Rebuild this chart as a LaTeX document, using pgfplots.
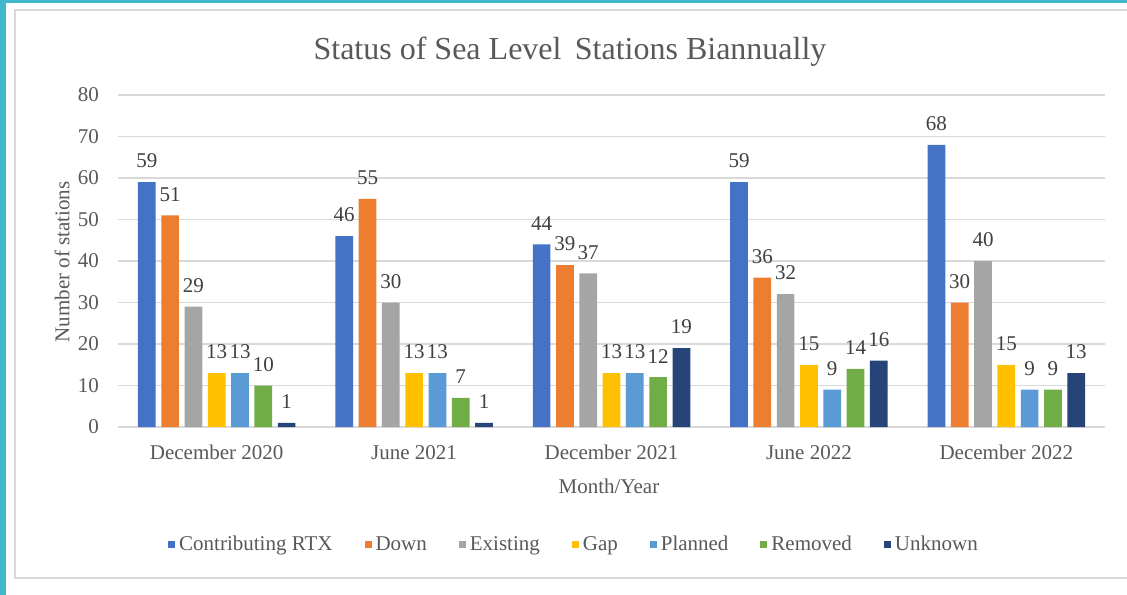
\documentclass[border=0pt]{standalone}
\usepackage{pgfplots}
\pgfplotsset{compat=1.18}
\usepackage{fontspec}
\setmainfont{Liberation Serif}
\definecolor{cA}{HTML}{4472C4}
\definecolor{cB}{HTML}{ED7D31}
\definecolor{cC}{HTML}{A5A5A5}
\definecolor{cD}{HTML}{FFC000}
\definecolor{cE}{HTML}{5B9BD5}
\definecolor{cF}{HTML}{70AD47}
\definecolor{cG}{HTML}{264478}
\definecolor{txt}{HTML}{595959}
\definecolor{lbl}{HTML}{404040}
\definecolor{grd}{HTML}{D9D9D9}
\definecolor{tealb}{HTML}{3FB9CB}
\begin{document}
\begin{tikzpicture}
\useasboundingbox (0,0) rectangle (563.5pt,297pt);
\clip (0,0) rectangle (563.5pt,297pt);
\fill[white] (-5pt,-5pt) rectangle (570pt,300pt);
\fill[tealb] (-5pt,-5pt) rectangle (3pt,300pt);
\fill[tealb] (-5pt,295.5pt) rectangle (570pt,300pt);
\draw[grd, line width=0.8pt] (600pt,8pt) -- (7.5pt,8pt) -- (7.5pt,292pt) -- (600pt,292pt);
\node[text=txt, font=\fontsize{16}{18}\selectfont] at (285pt,271pt) {Status of Sea Level\, Stations Biannually};
\node[text=txt, font=\fontsize{10.5}{12}\selectfont, rotate=90] at (31pt,166pt) {Number of stations};
\node[text=txt, font=\fontsize{10.5}{12}\selectfont] at (304.5pt,54pt) {Month/Year};
\begin{axis}[
  at={(59pt,83.5pt)}, anchor=south west,
  scale only axis, width=493.5pt, height=166pt,
  ybar=2.8pt, bar width=8.85pt,
  xmin=-0.5, xmax=4.5, ymin=0, ymax=80,
  ytick={0,10,...,80},
  xtick={0,1,2,3,4},
  xticklabels={December 2020,June 2021,December 2021,June 2022,December 2022},
  axis line style={draw=none},
  major tick length=0pt,
  ymajorgrids, grid style={grd, line width=0.7pt},
  tick label style={text=txt, font=\fontsize{10.5}{12}\selectfont},
  /pgf/number format/assume math mode=true,
  yticklabel style={xshift=-6pt},
  xticklabel style={yshift=-5.5pt},
  nodes near coords,
  every node near coord/.append style={text=lbl, font=\fontsize{10.5}{12}\selectfont, yshift=3.5pt, /pgf/number format/assume math mode=true},
  legend style={at={(0.463,-0.355)}, anchor=center, draw=none, fill=none,
    legend columns=-1, font=\fontsize{10.5}{12}\selectfont, text=txt,
    /tikz/every even column/.append style={column sep=14pt}},
  legend image code/.code={\fill[#1] (0pt,-1.75pt) rectangle (3.5pt,1.75pt);},
]
\addplot[fill=cA, draw=none] coordinates {(0,59) (1,46) (2,44) (3,59) (4,68)};
\addplot[fill=cB, draw=none] coordinates {(0,51) (1,55) (2,39) (3,36) (4,30)};
\addplot[fill=cC, draw=none] coordinates {(0,29) (1,30) (2,37) (3,32) (4,40)};
\addplot[fill=cD, draw=none] coordinates {(0,13) (1,13) (2,13) (3,15) (4,15)};
\addplot[fill=cE, draw=none] coordinates {(0,13) (1,13) (2,13) (3,9) (4,9)};
\addplot[fill=cF, draw=none] coordinates {(0,10) (1,7) (2,12) (3,14) (4,9)};
\addplot[fill=cG, draw=none] coordinates {(0,1) (1,1) (2,19) (3,16) (4,13)};
\legend{Contributing RTX,Down,Existing,Gap,Planned,Removed,Unknown}
\end{axis}
\end{tikzpicture}
\end{document}
